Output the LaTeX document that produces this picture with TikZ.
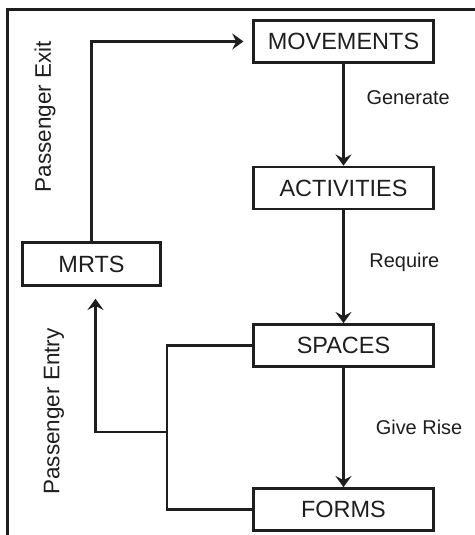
\documentclass[tikz,border=0pt]{standalone}
\usepackage{fontspec}
\setmainfont{Liberation Sans}
\usetikzlibrary{arrows.meta, positioning}
\definecolor{Ink}{HTML}{1E1E1E}

\begin{document}
\begin{tikzpicture}[
    every node/.style={font=\fontsize{14.2}{17}\selectfont, text=Ink},
    block/.style={draw=Ink, line width=1.8pt, minimum width=4.5cm, minimum height=1.05cm,
        inner sep=0pt, align=center, font=\fontsize{16.7}{20}\selectfont},
    sidelabel/.style={rotate=90, font=\fontsize{16}{19}\selectfont},
    link/.style={line width=1.7pt, Ink},
    arr/.style={-{Stealth[length=2.8mm, width=4mm, inset=1mm]}, line width=1.7pt, Ink},
]

% === Page and frame ===
\useasboundingbox (0, 0) rectangle (11.875, 13.375);
\draw[line width=2.5pt, Ink] (0.1875, 0) -- (0.1875, 13.1375) -- (11.875, 13.1375);

% =============================================
% MAIN CHAIN
% =============================================
\node[block] (movements) at (8.5875, 12.3375) {MOVEMENTS};
\node[block] (activities) at (8.5875, 8.675) {ACTIVITIES};
\node[block] (spaces) at (8.5875, 4.7375) {SPACES};
\node[block] (forms) at (8.5875, 0.6375) {FORMS};

\draw[arr] (movements) -- (activities) node[pos=0.33, right=0.43cm] (generate) {Generate};
\draw[arr] (activities) -- (spaces) node[pos=0.46, right=0.5cm] (require) {Require};
\draw[arr] (spaces) -- (forms) node[midway, right=0.66cm] (giverise) {Give Rise};

% =============================================
% MRTS LOOP
% =============================================
\node[block, minimum width=3.45cm, minimum height=1.075cm] (mrts) at (2.2875, 6.775) {MRTS};

% Exit
\draw[arr, shorten >=0.22cm] (mrts.north) |- (movements.west);
\node[sidelabel] (exitlabel) at (1.125, 10.4625) {Passenger Exit};

% Entry
\coordinate (split) at (4.175, 2.575);
\draw[link] (spaces.west) -| (split) |- (forms.west);
\draw[arr, shorten >=0.3cm] (split) -| ([xshift=0.1cm]mrts.south);
\node[sidelabel] (entrylabel) at (1.35, 3.0875) {Passenger Entry};

\end{tikzpicture}
\end{document}
